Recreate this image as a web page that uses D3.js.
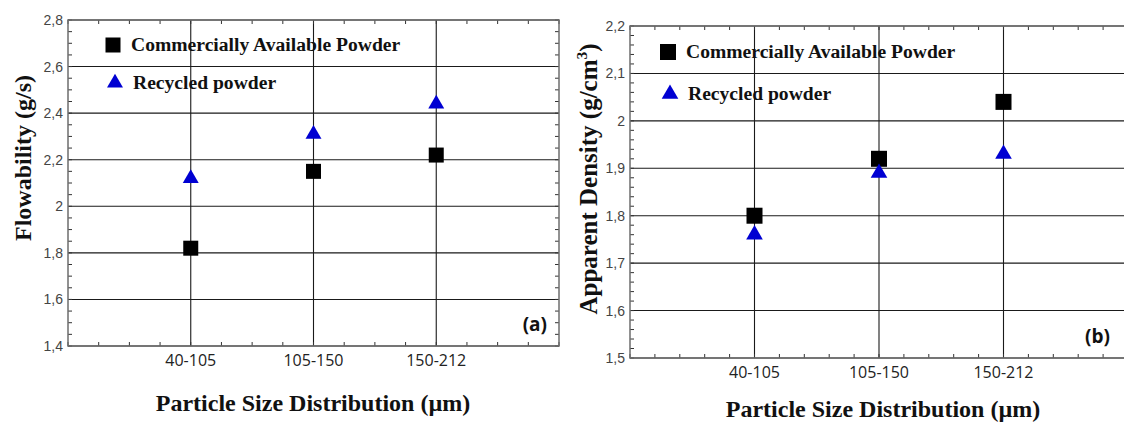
<!DOCTYPE html>
<html>
<head>
<meta charset="utf-8">
<script src="https://cdn.jsdelivr.net/npm/d3@7"></script>
<style>
    body { margin: 0; background: #fff; }
    svg { display: block; }
</style>
</head>
<body>
<div id="chart"></div>
<script>
var categories = ["40-105", "105-150", "150-212"];
var seriesNames = ["Commercially Available Powder", "Recycled powder"];

// panel (a) flowability, g/s
var flowCommercial = [1.82, 2.15, 2.22];
var flowRecycled = [2.12, 2.31, 2.44];
var flowTicks = [1.4, 1.6, 1.8, 2.0, 2.2, 2.4, 2.6, 2.8];

// panel (b) apparent density, g/cm3
var densityCommercial = [1.80, 1.92, 2.04];
var densityRecycled = [1.76, 1.89, 1.93];
var densityTicks = [1.5, 1.6, 1.7, 1.8, 1.9, 2.0, 2.1, 2.2];

var width = 1124,
    height = 423,
    blue = "#0000d2",
    serif = "'Liberation Serif', 'Times New Roman', serif";

var svg = d3.select("#chart").append("svg")
    .attr("width", width)
    .attr("height", height);

svg.append("defs").append("clipPath")
    .attr("id", "page")
    .append("rect")
    .attr("width", width)
    .attr("height", height);

var root = svg.append("g").attr("clip-path", "url(#page)");

/**
 * Tick label like the original: decimal comma, "2" instead of "2,0".
 */
function fmt(v) {
    var s = d3.format(".1f")(v);
    if (s.slice(-2) === ".0") {
        s = s.slice(0, -2);
    }
    return s.replace(".", ",");
}

function trianglePath(size) {
    return d3.symbol().type(d3.symbolTriangle).size(size)();
}

/**
 * Draw one panel: frame, grid, minor ticks, points, legend, labels.
 */
function drawPanel(p) {
    var g = root.append("g"),
        x = d3.scaleLinear().domain([0, 4]).range([p.left, p.right]),
        y = d3.scaleLinear().domain(p.yDomain).range([p.bottom, p.top]),
        xMinor = d3.range(0, 4 + 1e-9, p.xStep),
        yMinor = d3.range(p.yDomain[0], p.yDomain[1] + 1e-9, p.yStep),
        tick = 4;

    // horizontal grid at labelled values
    g.selectAll("line.hgrid")
        .data(p.yTicks)
        .enter().append("line")
        .attr("x1", p.left).attr("x2", p.right)
        .attr("y1", function (d) { return y(d); })
        .attr("y2", function (d) { return y(d); })
        .attr("stroke", "#1a1a1a")
        .attr("stroke-width", 1.1);

    // vertical grid at categories
    g.selectAll("line.vgrid")
        .data(categories)
        .enter().append("line")
        .attr("x1", function (d, i) { return x(i + 1); })
        .attr("x2", function (d, i) { return x(i + 1); })
        .attr("y1", p.top).attr("y2", p.bottom)
        .attr("stroke", "#1a1a1a")
        .attr("stroke-width", 1.1);

    // minor ticks, pointing inward on all four sides
    var ticks = g.append("g").attr("stroke", "#333").attr("stroke-width", 1);
    xMinor.forEach(function (v) {
        ticks.append("line").attr("x1", x(v)).attr("x2", x(v)).attr("y1", p.top).attr("y2", p.top + tick);
        ticks.append("line").attr("x1", x(v)).attr("x2", x(v)).attr("y1", p.bottom).attr("y2", p.bottom - tick);
    });
    yMinor.forEach(function (v) {
        ticks.append("line").attr("y1", y(v)).attr("y2", y(v)).attr("x1", p.left).attr("x2", p.left + tick);
        ticks.append("line").attr("y1", y(v)).attr("y2", y(v)).attr("x1", p.right).attr("x2", p.right - tick);
    });

    // frame
    g.append("rect")
        .attr("x", p.left).attr("y", p.top)
        .attr("width", p.right - p.left)
        .attr("height", p.bottom - p.top)
        .attr("fill", "none")
        .attr("stroke", "#6e6e6e")
        .attr("stroke-width", 1.5);

    // y tick labels
    g.selectAll("text.ytick")
        .data(p.yTicks)
        .enter().append("text")
        .attr("x", p.left - 5)
        .attr("y", function (d) { return y(d) + 5; })
        .attr("text-anchor", "end")
        .attr("font-family", "'Liberation Sans', Arial, sans-serif")
        .attr("font-size", 14)
        .attr("fill", "#444")
        .text(fmt);

    // x tick labels
    g.selectAll("text.xtick")
        .data(categories)
        .enter().append("text")
        .attr("x", function (d, i) { return x(i + 1); })
        .attr("y", p.bottom + 20)
        .attr("text-anchor", "middle")
        .attr("font-family", "'Open Sans', sans-serif")
        .attr("font-size", 16)
        .attr("fill", "#222")
        .text(function (d) { return d; });

    // points
    g.selectAll("rect.commercial")
        .data(p.commercial)
        .enter().append("rect")
        .attr("x", function (d, i) { return x(i + 1) - p.sq / 2; })
        .attr("y", function (d) { return y(d) - p.sq / 2; })
        .attr("width", p.sq).attr("height", p.sq)
        .attr("fill", "#000");

    g.selectAll("path.recycled")
        .data(p.recycled)
        .enter().append("path")
        .attr("d", trianglePath(p.tri))
        .attr("transform", function (d, i) { return "translate(" + x(i + 1) + "," + y(d) + ")"; })
        .attr("fill", blue);

    // legend
    g.append("rect")
        .attr("x", p.legend[0] - p.sq / 2).attr("y", p.legend[1] - p.sq / 2)
        .attr("width", p.sq).attr("height", p.sq)
        .attr("fill", "#000");
    g.append("path")
        .attr("d", trianglePath(p.tri))
        .attr("transform", "translate(" + (p.legend[0] + 2) + "," + (p.legend[1] + p.legendGap) + ")")
        .attr("fill", blue);
    g.selectAll("text.legend")
        .data(seriesNames)
        .enter().append("text")
        .attr("x", function (d, i) { return p.legend[0] + 18 + i * 2; })
        .attr("y", function (d, i) { return p.legend[1] + 6 + i * p.legendGap; })
        .attr("font-family", serif)
        .attr("font-weight", "bold")
        .attr("font-size", 19.6)
        .attr("fill", "#111")
        .text(function (d) { return d; });

    // panel letter
    g.append("text")
        .attr("x", p.right - p.letterInset)
        .attr("y", p.bottom - 15)
        .attr("text-anchor", "end")
        .attr("font-family", "'Open Sans', sans-serif")
        .attr("font-weight", "bold")
        .attr("font-size", 19)
        .attr("fill", "#111")
        .text(p.letter);

    // axis titles
    g.append("text")
        .attr("x", p.xTitle[0])
        .attr("y", p.xTitle[1])
        .attr("text-anchor", "middle")
        .attr("font-family", serif)
        .attr("font-weight", "bold")
        .attr("font-size", 24)
        .attr("fill", "#111")
        .text("Particle Size Distribution (\u00b5m)");

    var yt = g.append("text")
        .attr("transform", "translate(" + p.yTitle[0] + "," + p.yTitle[1] + ") rotate(-90)")
        .attr("text-anchor", "middle")
        .attr("font-family", serif)
        .attr("font-weight", "bold")
        .attr("font-size", p.yTitleSize)
        .attr("fill", "#111");
    yt.append("tspan").text(p.yTitleText);
    if (p.yTitleSup) {
        yt.append("tspan")
            .attr("font-size", p.yTitleSize * 0.62)
            .attr("dy", -10)
            .text(p.yTitleSup);
        yt.append("tspan").attr("dy", 10).text(")");
    }
}

drawPanel({
    left: 68, right: 559, top: 20, bottom: 346,
    yDomain: [1.4, 2.8], yTicks: flowTicks,
    xStep: 0.25, yStep: 0.05,
    commercial: flowCommercial, recycled: flowRecycled,
    sq: 15, tri: 110,
    legend: [113, 45], legendGap: 38,
    letter: "(a)", letterInset: 12,
    xTitle: [313, 411],
    yTitle: [31, 158], yTitleSize: 24,
    yTitleText: "Flowability (g/s)"
});

drawPanel({
    left: 630, right: 1128, top: 26, bottom: 358,
    yDomain: [1.5, 2.2], yTicks: densityTicks,
    xStep: 0.2, yStep: 0.02,
    commercial: densityCommercial, recycled: densityRecycled,
    sq: 16, tri: 120,
    legend: [668, 52], legendGap: 42,
    letter: "(b)", letterInset: 18,
    xTitle: [883, 417],
    yTitle: [597, 179], yTitleSize: 25,
    yTitleText: "Apparent Density (g/cm",
    yTitleSup: "3"
});
</script>
</body>
</html>
